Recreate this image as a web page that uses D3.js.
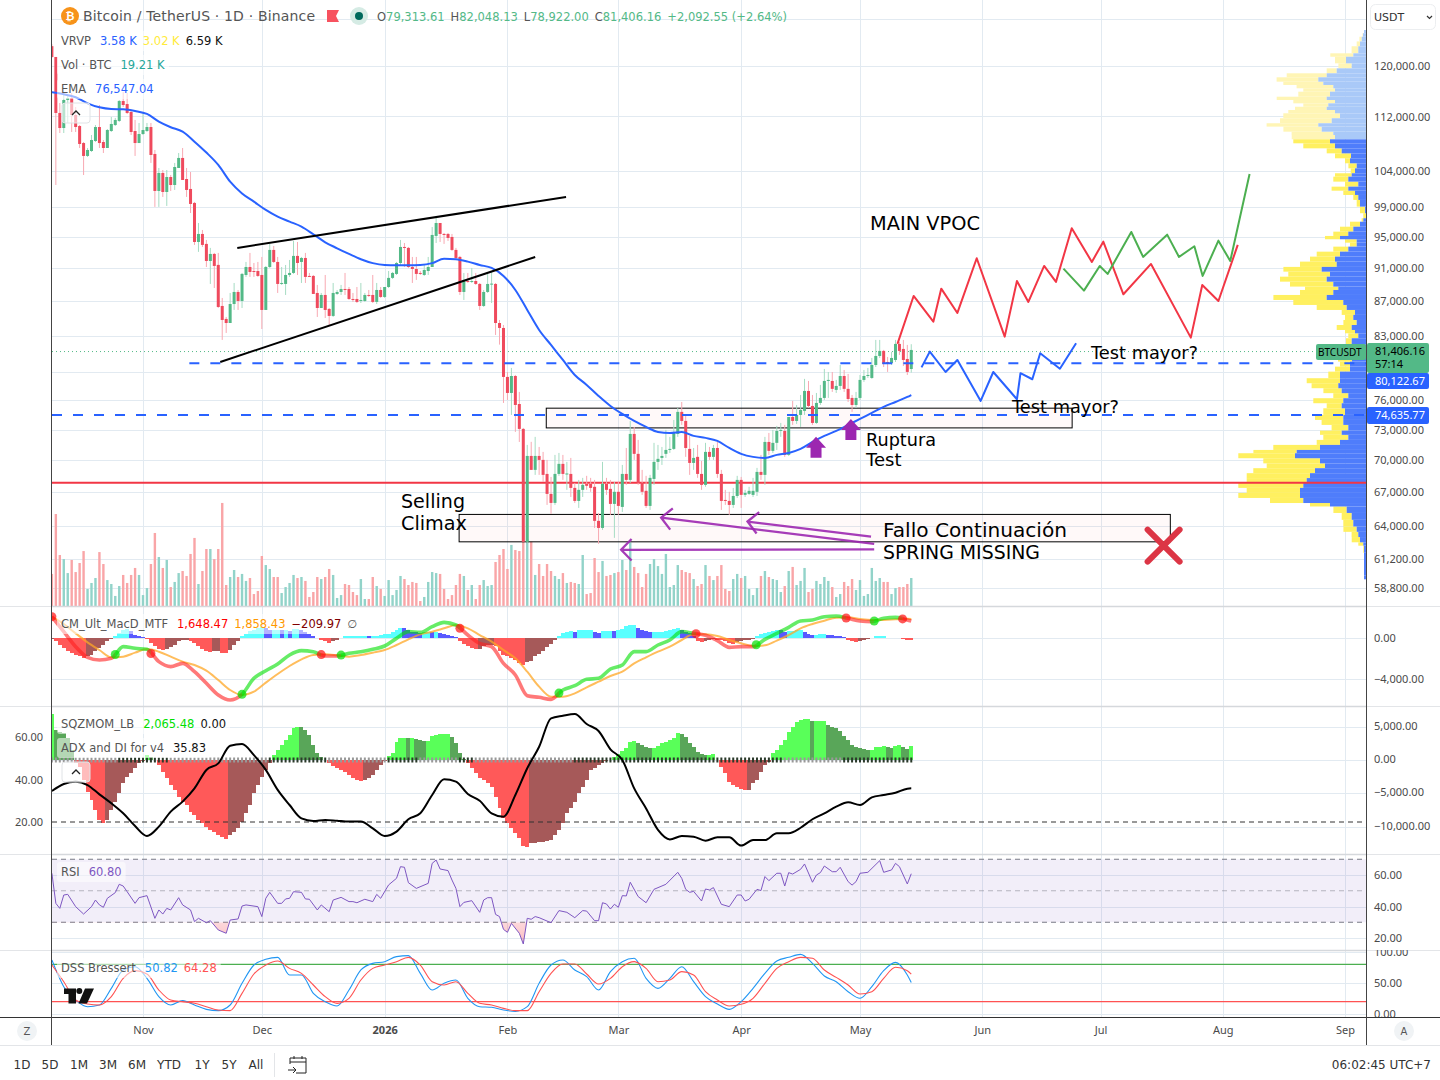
<!DOCTYPE html>
<html>
<head>
<meta charset="utf-8">
<title>BTCUSDT</title>
<script src="https://cdn.jsdelivr.net/npm/d3@7"></script>
<style>
html, body { margin: 0; padding: 0; background: #fff; }
svg { display: block; font-family: "DejaVu Sans", sans-serif; }
.axis path, .axis line { display: none; }
.axis text { font-family: "Noto Sans", sans-serif; font-size: 11px; fill: #4a4a4a; }
</style>
</head>
<body>
<svg id="chart" width="1440" height="1080"></svg>
<script>
// candles, first one is 9 Oct 2025, one per day
var opens = [
 123300,121490,112540,110250,114550,114860,112230,110550,108010,106120,
 106840,108310,110400,108160,107280,109800,110700,111320,114390,113920,
 112690,109800,108010,109350,109800,110400,106410,101160,103680,101020,
 103110,101990,104390,105830,102830,101440,99520,94350,95390,94100,
 91930,92820,91440,86450,84930,84460,86680,88120,87040,90190,
 91180,90680,90680,90190,85980,91180,93330,91810,89090,89090,
 90190,90440,92570,91810,92310,90070,90070,88000,86210,87760,
 86100,85280,87880,88120,88480,88480,87280,87280,87040,87040,
 87760,87760,86930,88360,87520,88720,89830,90320,91680,93710,
 93590,91180,90930,90440,90190,90680,91180,95130,96830,95390,
 95390,95000,93330,92440,88120,89450,89330,89450,89090,86450,
 88120,89090,89090,84460,83890,78460,76760,78560,75610,73080,
 62630,70430,69100,70430,70050,68720,66870,66050,68720,69670,
 68720,68720,67420,66230,67240,67790,67790,67520,64450,63830,
 67790,67330,65960,67060,65690,68720,68160,72580,70630,67880,
 67150,65780,68250,69860,70240,70630,71010,71110,72580,74800,
 73880,71110,69760,70340,68720,67700,70820,70340,71200,68720,
 66320,66230,65870,66680,68160,66780,66870,66780,67060,68910,
 68630,71790,70920,71700,72880,72880,70530,74280,73880,74490,
 74900,76970,75410,73680,75720,76240,78030,78030,77080,77500,
 78560,77190,76240,75510,76240,78140,78560,78350,79750,80740,
 81300,80080,79970,80300,82080,81520,80410,79313.61];
var highs = [
 123650,121490,114080,115650,115340,115650,113460,110700,108160,107280,
 109200,110700,113770,108460,110100,111930,111780,114550,115810,115650,
 113000,111470,111010,112540,111010,111010,106990,104390,104100,104100,
 103390,105110,106550,107280,104390,103820,99660,96830,95910,94610,
 93590,92950,92950,87400,85160,88000,89210,88360,90440,91810,
 92950,91680,91810,92440,91310,94100,93840,92440,91180,91430,
 92060,94480,94350,92440,92950,90440,90190,88970,88000,90190,
 86210,89210,88360,88970,90440,88720,88000,88720,89210,88000,
 88360,90190,89210,88720,88720,90680,90560,91810,94610,94220,
 93710,92440,92440,90680,91430,92440,96300,97760,96830,95520,
 95520,95390,93590,92570,90440,90440,91060,90440,89210,88360,
 90320,90560,89210,84810,84230,78980,79430,78670,76870,73180,
 71500,71800,72290,71300,70820,70050,68440,70530,70720,70530,
 69860,70240,67880,68160,68350,68540,68350,68160,65150,69860,
 68350,68160,67970,67970,69570,71200,73880,73280,71990,69100,
 68540,68630,71700,71500,71300,72980,72290,73980,75200,75820,
 74490,72390,71200,71500,69950,71700,71300,71500,71790,69100,
 67240,67060,67420,68540,68440,67240,67520,68350,69290,70530,
 72290,72680,72980,73380,73680,73480,74280,75930,75510,76550,
 78250,78030,76550,76760,77610,79320,78990,78990,78140,79750,
 79210,78780,76550,76870,78670,79210,79430,80520,82530,82530,
 81410,80630,81190,82530,82300,82530,81970,82048.13];
var lows = [
 121320,101990,109500,109500,111010,109650,109650,107280,103390,105970,
 106700,108160,107280,106550,107280,109650,110550,111160,113460,112380,
 109200,106120,108010,109200,109650,105110,98980,98980,100340,99110,
 101160,101300,104390,102690,100340,98160,93970,93080,93710,91180,
 89090,88600,86210,82530,83320,84460,85980,85980,86210,89950,
 89950,89950,89950,83770,85980,91060,91680,88000,88970,87760,
 89950,90320,90190,89210,89210,89950,87880,85160,86210,85040,
 84230,85160,87760,87760,87760,87160,86930,86800,86800,86930,
 87520,86800,86680,87400,87400,88600,89700,90190,91430,91180,
 91060,89210,89580,90190,90070,90190,91180,94220,94350,94100,
 94480,93200,92180,87760,87160,89210,89210,88970,85980,86330,
 88000,86800,83090,82000,75720,76030,74490,72780,71790,62630,
 62540,69100,68630,68630,67970,65870,65070,65870,68540,68160,
 67240,66590,66050,65600,66590,67240,67060,63830,62460,63660,
 66780,64980,62970,64980,65240,67700,67880,70050,67700,66780,
 65600,65420,67700,69100,69570,70240,70720,71010,72290,73480,
 70340,68630,69100,68350,67240,67520,70050,70050,68350,65420,
 65870,64980,65600,66500,65600,66590,66780,66590,66680,68160,
 67700,70530,70720,71010,72290,70340,70430,73480,73580,73280,
 74490,75200,73480,73580,75510,76030,76240,76870,76760,77080,
 76870,75820,74800,75200,76030,77930,78350,78250,79530,80520,
 79530,79000,79750,80080,80850,79640,78670,78922];
var closes = [
 121490,112540,110250,114550,114860,112230,110400,107870,106120,106990,
 108460,110400,108010,107280,109950,110860,111470,114390,113770,112540,
 109650,108010,109350,109950,110400,106260,101160,103680,101020,103110,
 101990,104530,105830,102690,101300,99380,94350,95390,93970,91930,
 92820,91310,86330,84810,84460,86680,88120,87040,90320,91180,
 90560,90560,90070,85980,91180,93330,91810,89090,89210,90190,
 90440,92570,91680,92310,89950,89950,87880,86210,87760,85980,
 85280,88000,88120,88480,88360,87280,87220,86930,87160,87760,
 87640,86930,88360,87520,88720,89830,90440,91680,93710,93590,
 91180,90930,90320,90320,90810,91180,95260,96830,95390,95260,
 94870,93330,92310,88120,89580,89330,89450,89090,86450,88120,
 89090,89130,84460,83890,78460,76760,78560,75510,73080,62630,
 70430,69100,70430,70050,68630,66870,66050,68720,69670,68720,
 68760,67420,66230,67240,67700,67610,67420,64450,63830,67790,
 67240,65960,67060,65780,68720,68160,72580,70630,67880,67060,
 65780,68350,69860,70150,70430,71010,71110,72680,74800,73880,
 71200,69760,70240,68720,67700,70820,70340,71200,68720,66230,
 66230,65870,66680,68160,66780,66960,67150,67150,68910,68630,
 71790,70920,71700,72880,72980,70530,74280,73880,74490,75000,
 76970,75410,73680,75720,76240,78030,78140,77190,77500,78560,
 77190,76130,75510,76240,78140,78560,78670,79750,80740,81300,
 79860,79860,80520,82080,81300,80300,79000,81406.16];
// volume in thousands of BTC
var volumes = [
 22.0,63.1,35.0,32.2,22.6,31.6,23.3,29.5,37.7,11.7,
 15.8,19.2,37.0,28.8,17.8,15.1,6.9,13.7,21.3,15.8,
 21.3,26.1,21.3,7.5,12.3,28.8,50.1,33.6,26.1,31.6,
 13.0,16.5,22.6,24.0,20.6,35.7,46.7,15.1,24.0,39.1,
 39.1,32.2,39.1,70.7,14.4,19.9,24.7,19.9,22.0,17.2,
 19.2,8.2,10.3,34.3,28.1,25.4,19.9,19.9,8.9,13.0,
 15.8,21.3,19.2,19.9,17.2,6.2,9.6,19.9,18.5,19.9,
 25.4,21.3,5.5,7.5,15.1,14.4,9.6,7.5,18.5,4.8,
 4.8,19.9,13.7,11.7,6.9,17.8,7.5,11.0,20.6,18.5,
 14.4,16.5,15.8,3.4,6.2,16.5,23.3,22.6,22.0,11.7,
 4.8,7.5,14.4,22.0,20.6,11.0,14.4,4.8,14.4,17.8,
 13.7,14.4,30.2,35.0,39.1,25.4,41.9,38.4,37.7,52.6,
 45.7,44.1,21.3,28.8,20.6,28.8,24.0,20.6,18.5,22.6,
 15.8,16.5,15.8,15.1,35.0,8.2,8.9,32.9,23.3,30.9,
 20.6,21.3,22.6,23.3,31.6,24.7,43.5,26.8,22.6,13.0,
 22.0,28.8,32.2,27.4,22.0,35.7,13.0,14.4,28.1,24.7,
 23.3,22.6,18.5,13.7,15.1,28.1,20.6,17.8,20.6,28.1,
 11.7,10.3,18.5,22.0,19.2,20.6,11.7,7.5,12.3,20.6,
 24.0,19.9,18.5,17.8,9.6,13.7,24.0,26.8,14.4,17.2,
 26.1,9.6,11.7,17.2,15.1,19.9,17.2,13.0,6.2,8.2,
 16.5,13.7,18.5,11.0,17.8,6.9,8.2,26.1,17.2,19.2,
 16.5,16.5,8.2,12.3,13.0,13.0,15.1,19.21];

// smooth series were read every third candle, plus the last one
var emaValues = [
 115760,115450,114980,114030,113410,113150,113110,112850,112390,111220,
 110370,109700,108210,106610,104820,102450,100820,99700,98570,97670,
 97010,96350,95350,94310,93540,92820,92150,91660,91430,91400,
 91400,91430,91660,92220,92150,91850,91430,91060,90070,88360,
 85980,83660,81970,80300,78670,77610,76450,75410,74590,73880,
 73280,72780,72680,72780,72390,72190,71890,71200,70630,70340,
 70240,70530,70720,71110,71790,72390,72880,73480,74080,74700,
 75310,75820,76340,76547.04];
var macdFast = [
 2081,618,-846,-1886,-2147,-1984,-846,-1008,-1106,-2309,
 -2797,-2472,-3285,-4423,-5561,-6049,-5496,-3935,-3187,-2537,
 -1659,-1236,-1334,-1756,-1756,-1496,-1334,-1106,-781,-33,
 618,553,1105,1528,1268,292,-521,-846,-2472,-3610,
 -5626,-5789,-5984,-5073,-4651,-4033,-3935,-3025,-2634,-1334,
 -1334,-683,-195,618,455,260,-260,-911,-846,-846,
 -130,455,1040,1658,1756,2081,2146,1918,1658,1593,
 1918,2016,1756,1648.47];
var macdSignal = [
 2081,1366,455,-423,-1171,-1886,-1821,-1431,-1073,-1334,
 -1821,-2309,-2634,-3187,-4098,-5073,-5561,-5236,-4358,-3512,
 -2732,-2082,-1659,-1594,-1691,-1821,-1659,-1431,-1171,-683,
 -130,357,618,943,1268,943,292,-358,-1171,-1984,
 -3285,-4748,-5724,-5724,-5399,-4813,-4260,-3708,-3285,-2472,
 -1886,-1334,-846,-195,357,357,195,-195,-521,-781,
 -716,-260,292,943,1366,1691,1983,2016,1853,1756,
 1756,1821,1886,1858.43];
var macdCrossDays = [0,16,25,48,68,73,103,128,162.6,177.8,200.5,207.6,214.8];
var macdHist = [
 -98,-325,-650,-975,-1300,-1463,-1625,-1788,-1950,-1788,
 -1625,-1300,-975,-650,-325,-98,163,488,748,878,
 650,325,228,98,-98,-488,-813,-1073,-1138,-1073,
 -910,-650,-325,-228,-163,-325,-488,-813,-1073,-1300,
 -1398,-1300,-1235,-1430,-1495,-1138,-650,-260,163,423,
 650,813,975,1073,975,813,813,813,748,748,
 715,878,878,748,553,423,228,33,-163,-325,
 -488,-325,-163,33,163,163,163,163,163,228,
 195,228,228,293,358,423,553,748,975,943,
 748,618,553,488,553,618,585,585,488,358,
 293,228,65,-325,-553,-813,-975,-1073,-1073,-813,
 -715,-650,-813,-1300,-1625,-1723,-1950,-2113,-2438,-2600,
 -2373,-2210,-1788,-1528,-1235,-910,-585,-163,163,488,
 618,650,618,748,748,813,813,585,488,650,
 715,715,650,748,878,1138,1300,1300,975,813,
 650,553,585,585,618,650,748,878,1008,813,
 585,488,163,-325,-423,-325,-228,-98,-163,-228,
 -325,-488,-618,-423,-325,-228,-163,-65,228,358,
 488,585,683,813,748,585,683,683,748,748,
 553,423,325,325,390,423,293,260,195,163,
 98,-228,-325,-423,-325,-228,-130,-33,163,195,
 195,0,0,0,0,-65,-163,-209.97];

var sqzValues = [
 6850,4500,4250,4000,3250,1500,-400,-1000,-3000,-4750,
 -6000,-7500,-9000,-9500,-9000,-7500,-6250,-5000,-3500,-2500,
 -2000,-1250,-500,-150,750,500,0,-750,-1750,-2750,
 -3750,-4500,-5500,-6250,-6750,-7750,-8250,-9000,-9500,-10000,
 -10500,-10750,-11250,-11600,-11800,-11250,-10750,-10250,-9250,-8000,
 -6750,-5000,-3750,-2500,-1500,-500,750,1500,2250,3000,
 3750,4750,5000,4950,4500,3750,2250,1000,400,0,
 -500,-850,-1250,-1500,-1750,-2250,-2750,-3000,-3150,-3000,
 -2750,-2250,-1500,-750,-150,600,1100,2750,3250,3350,
 3250,3350,3100,3000,2900,2900,3600,3800,3900,3900,
 3900,3500,2500,1100,100,-500,-1250,-2000,-2750,-3000,
 -3500,-4000,-5500,-7250,-8750,-9500,-10250,-11000,-11750,-12900,
 -13000,-12500,-12500,-12250,-12250,-12150,-12000,-11250,-10500,-9500,
 -8000,-7250,-6250,-5000,-4000,-3000,-1500,-1250,-750,-400,
 -150,0,500,850,1350,1750,2750,2900,2600,2250,
 1900,1800,1850,2150,2500,2750,3000,3250,4000,3900,
 3400,2500,1900,1250,850,700,800,900,0,-1000,
 -2000,-3250,-3750,-4000,-4400,-4500,-4500,-3500,-3000,-1750,
 -750,-250,1000,1500,2250,3000,4250,5000,5750,6000,
 6100,6100,5900,5900,5900,5900,5250,5000,4750,4400,
 3600,3000,2250,2000,1750,1600,1500,1500,1900,2000,
 2100,1900,1750,2100,2250,1900,1700,2065.48];
var sqzOnRuns = [[17,29],[55,69],[85,92],[103,106],[132,184],[200,217]];
var adxValues = [
 34.6,37.9,39.0,37.4,33.0,28.8,24.1,18.1,13.4,17.8,
 24.9,29.6,35.8,44.5,47.6,55.9,56.7,51.5,44.5,35.1,
 28.0,21.7,20.5,21.0,20.6,20.2,20.2,17.0,13.4,15.5,
 21.3,24.1,32.7,40.1,39.0,33.2,30.0,24.1,22.5,32.7,
 45.3,55.4,68.8,70.0,70.8,66.1,62.8,54.2,49.2,35.8,
 26.4,16.3,11.8,13.4,13.1,11.2,12.8,12.8,8.9,11.5,
 11.5,14.7,14.7,17.3,21.3,24.1,27.2,29.3,28.0,31.6,
 32.7,33.8,35.7,35.83];

// rsi turning points
var rsiDays = [
 0,1,2,3,4,6,8,10,11,12,13,14,16,17,18,19,21,22,24,26,27,28,29,30,32,33,35,36,37,39,40,42,44,45,47,48,49,52,53,54,55,57,58,59,60,61,63,64,65,67,68,70,71,73,75,76,77,79,81,82,83,85,87,88,89,90,92,95,96,97,98,100,101,102,103,104,106,
 108,109,110,111,112,113,114,115,116,118,119,120,121,122,123,126,128,130,132,134,135,137,138,139,140,141,142,143,144,145,146,148,150,152,155,158,159,160,161,162,164,165,166,167,169,171,173,174,175,176,178,179,180,181,183,184,185,186,187,189,190,192,193,194,195,197,198,199,201,202,203,204,206,209,210,212,213,214,216,217];
var rsiValues = [
 61.1,42.0,38.8,47.3,47.7,39.9,35.2,39.9,44.1,41.0,39.5,45.2,48.8,54.1,53.0,49.4,42.0,45.6,46.9,32.5,37.8,35.2,38.8,37.8,45.6,41.0,37.8,30.4,32.5,29.7,31.0,25.1,23.0,31.4,32.1,40.3,41.0,39.9,33.6,45.2,49.0,42.0,42.0,44.8,45.2,49.4,49.0,44.8,44.6,37.8,41.0,36.7,44.1,45.8,43.1,43.1,42.4,44.6,43.1,47.7,45.2,53.7,57.9,65.3,64.9,55.1,51.5,54.7,67.4,69.5,63.8,62.8,56.8,51.5,39.9,42.6,43.7,
 36.3,44.1,45.6,45.6,35.0,33.6,25.5,23.6,29.3,23.0,16.2,32.5,31.9,33.6,32.9,29.7,37.4,36.3,32.9,37.4,37.1,31.0,31.0,42.4,41.6,38.4,41.4,39.5,46.9,46.7,55.4,46.3,42.4,50.9,54.1,61.7,57.9,50.9,49.0,49.6,43.5,51.1,50.5,52.0,41.4,39.9,47.3,47.3,43.5,44.6,50.9,50.1,59.0,56.4,61.1,61.1,53.0,61.5,60.6,63.6,67.0,55.4,60.0,61.5,65.7,62.1,62.1,64.9,55.8,53.6,55.8,61.1,61.7,69.1,61.7,63.2,67.4,65.3,54.3,60.8];

var dssBlue = [
 87.1,44.1,22.6,11.8,14.5,41.4,71.0,76.3,57.5,28.0,
 14.5,21.5,14.5,7.5,5.4,14.5,49.5,79.0,88.2,91.4,
 62.9,62.9,33.3,19.9,12.9,38.7,71.0,81.7,84.4,92.5,
 94.1,65.6,38.7,49.5,54.8,25.3,11.8,10.8,6.4,4.3,
 11.8,49.5,79.0,87.1,71.0,60.2,38.7,68.3,84.4,89.8,
 57.5,41.4,57.5,76.3,52.1,28.0,16.1,7.5,19.9,41.4,
 65.6,85.5,91.4,96.2,81.7,61.3,52.1,36.0,25.3,44.1,
 69.9,83.3,62.9,50.82];
var dssRed = [
 79.0,52.1,22.6,16.1,14.5,28.0,57.5,69.9,64.5,38.7,
 22.6,19.9,17.2,11.8,6.4,5.4,33.3,64.5,79.0,85.5,
 73.6,65.6,46.8,28.0,17.2,25.3,54.8,73.6,79.0,84.4,
 91.4,79.0,52.1,46.8,52.1,33.3,17.2,14.5,9.1,5.4,
 5.4,36.0,65.6,80.6,80.6,64.5,48.4,57.5,76.3,84.4,
 73.6,52.1,54.8,68.3,62.9,36.0,22.6,12.9,15.6,25.3,
 49.5,73.6,84.4,91.4,89.8,71.0,59.1,46.8,32.3,36.0,
 57.5,75.3,69.9,64.28];

// visible range volume profile, rows from the top
var vpPrices = [
 126050,125500,124900,124100,123280,122100,121530,120440,119620,118810,118160,117460,116930,116400,115860,115070,114550,114030,113500,113000,112490,111730,110970,110460,109700,109200,
 108560,107970,107230,106500,105780,105060,104340,103640,103160,102460,101760,101200,100610,99930,99020,98130,97460,97000,96340,95690,95130,94700,94260,93750,93110,92480,91850,91190,90600,89980,89370,88770,88360,87760,
 87160,86570,85980,85400,84810,84230,83660,83280,82720,82000,81190,80520,80120,79570,79030,78320,77790,77260,76740,76210,75690,75170,74490,73980,73480,72910,72490,71990,71500,71010,70690,70210,69720,69260,68790,68330,67880,67420,66960,66500,66040,65730,65150,64540,63960,63490,63040,62590,62300,61700,59800];
var vpUp = [
 2,3,4.3,6,7.7,12.7,20,14.3,29.3,39.3,47.7,42.7,32.7,31,36,39.3,31,37.7,39.3,31,26,34.3,47.7,44.3,32.7,31,
 36,31,24.3,15,16,9.3,11,14.3,17.7,7.7,17.7,11,7.7,6,1,0,2.7,6,12.7,17.7,26,9.3,9.3,17.7,26,31,29.3,44.3,36,39.3,32.7,27.7,32.7,39.3,
 22.7,19.3,11,12.7,9.3,14.3,11,7.7,14.3,12,13,14,16,16,26,26,27.7,24.3,17.7,22.7,24.3,21,22.7,22.7,17.7,24.3,17.7,26,46,69.3,71,46,41,51,56,59.3,62.7,66,66,62.7,36,19.3,14.3,12.7,9.3,7.7,6,2.7,2,2,2];
var vpDown = [
 0,0.5,2.3,3.3,6.7,23,11,13.3,10,40,41.7,40,36.7,31.7,31.7,50,41.7,25,31.7,46.7,56.7,51.7,51.7,38.3,41.7,43.3,
 36.7,31.7,15,16,5,8.3,4.3,16.7,15,13.3,16.7,11.7,5,3.3,5,2.7,1.7,10,13.3,15,15,11.7,6.7,15,23.3,25,36.7,38.3,41.7,46.7,43.3,33.3,33.3,53.3,
 50,30,13.3,8.3,13.3,15,10,10,5.7,9,12,14,10,15,11.7,33.3,26.7,18.3,15,30,15,21.7,28.3,21.7,16.7,21.7,25,23.3,46.7,43.3,56.7,56.7,58.3,61.7,63.3,60,65,53.3,61.7,33.3,20,13.3,10,10,13.3,6.7,8.3,5,0.7,0,0];
var vpValueAreaTop = 108800;

// axis ticks
var priceTicks = [120000,112000,104000,99000,95000,91000,87000,83000,76000,73000,70000,67000,64000,61200,58800];
var priceGrid = [128000,120000,112000,104000,99000,95000,91000,87000,83000,79000,76000,73000,70000,67000,64000,61200,58800];
var monthDates = [Date.UTC(2025,10,1),Date.UTC(2025,11,1),Date.UTC(2026,0,1),Date.UTC(2026,1,1),Date.UTC(2026,2,1),Date.UTC(2026,3,1),Date.UTC(2026,4,1),Date.UTC(2026,5,1),Date.UTC(2026,6,1),Date.UTC(2026,7,1),Date.UTC(2026,8,1)];
var monthLabels = ["Nov","Dec","2026","Feb","Mar","Apr","May","Jun","Jul","Aug","Sep"];
var macdTicks = [0,-4000];
var sqzTicks = [5000,0,-5000,-10000];
var adxTicks = [60,40,20];
var rsiTicks = [60,40,20];
var dssTicks = [100,50,0];
var rangeButtons = ["1D","5D","1M","3M","6M","YTD","1Y","5Y","All"];

// drawn ideas on the chart, [day, price]
var wedgeTop = [[46.8,93590],[129.8,100340]];
var wedgeBottom = [[42.5,80080],[122,92440]];
var redPath = [[213.5,82080],[217.6,87640],[222.6,84610],[224.6,88520],[228.7,85630],[233.6,92270],[240.7,82900],[243.8,89460],[246.7,86930],[250.7,91310],[253.7,89340],[257.7,96130],[262.8,91810],[265.7,94390],[270.8,87840],[277.8,91560],[287.9,82790],[290.8,88970],[294.9,87040],[299.8,93970]];
var greenPath = [[255.6,90970],[260.8,88280],[264.8,91310],[266.8,90320],[272.8,95650],[275.8,92440],[281.9,95300],[284.9,92440],[288.8,93800],[290.9,90070],[294.9,94520],[297.9,91930],[302.8,103530]];
var bluePath = [[219.6,79490],[221.7,81220],[225.7,78990],[228.7,80300],[234.6,75930],[237.8,78990],[243.8,76100],[244.7,78860],[247.7,78210],[249.7,81040],[254.7,79350],[258.8,82150]];
var boxes = [[124.8,75180,257.8,73180],[102.8,65020,282.7,62630]];
var purpleArrows = [[206.8,63080,175.6,64390],[207.6,62460,153.8,64730],[207.6,61990,143.7,61950]];
var upArrows = [[192.9,72310],[201.7,74080]];
var crossMark = [281,62300];

var firstDay = Date.UTC(2025,9,9);
var DAY = 86400000;
var L = 52, R = 1366;
var sampleDays = d3.range(0,217,3).concat([217]);
var levelNudge = 1.6;

var svg = d3.select("#chart");

var x = d3.scaleUtc().domain([Date.UTC(2025,10,1),Date.UTC(2026,4,1),Date.UTC(2026,8,1)]).range([143,860,1345]);
function dayX(i) { return x(firstDay + i*DAY); }

var yPrice = d3.scaleLog().domain([120000,58800]).range([66,588]);
var yVol = d3.scaleLinear().domain([0,19.21]).range([606,578]);
var yMacd = d3.scaleLinear().domain([0,-4000]).range([638,679]);
var ySqz = d3.scaleLinear().domain([0,5000]).range([760,726.7]);
var yAdx = d3.scaleLinear().domain([20,60]).range([822,737]);
var yRsi = d3.scaleLinear().domain([60,20]).range([875,938]);
var yDss = d3.scaleLinear().domain([0,100]).range([1014,952]);

var defs = svg.append("defs");
function paneClip(id, top, bottom) {
    defs.append("clipPath").attr("id",id).append("rect")
        .attr("x",L).attr("y",top).attr("width",R-L).attr("height",bottom-top);
    return svg.append("g").attr("clip-path","url(#"+id+")");
}

var gridColor = "#e2eaf1";
var grid = svg.append("g");
grid.selectAll("line.month").data(monthDates).enter().append("line")
    .attr("x1",function(d){return Math.round(x(d))+0.5;}).attr("x2",function(d){return Math.round(x(d))+0.5;})
    .attr("y1",0).attr("y2",1017).attr("stroke",gridColor);
function hGrid(vals, scale) {
    grid.selectAll(null).data(vals).enter().append("line")
        .attr("x1",L).attr("x2",R)
        .attr("y1",function(d){return Math.round(scale(d))+0.5;}).attr("y2",function(d){return Math.round(scale(d))+0.5;})
        .attr("stroke",gridColor);
}
hGrid(priceGrid,yPrice);
hGrid(macdTicks,yMacd);
hGrid(sqzTicks,ySqz);
hGrid(rsiTicks,yRsi);
hGrid(dssTicks,yDss);

// bars in the lower panes touch each other, so snap them to pixels
function barX(i) { return Math.round(dayX(i)-2); }
function barW(i) { return Math.round(dayX(i+1)-2)-Math.round(dayX(i)-2); }

// ---- main pane
var main = paneClip("clipMain",0,606);

var vpX = d3.scaleLinear().domain([0,100]).range([0,100]);
var vpRows = vpPrices.map(function(p,i){
    var next = i < vpPrices.length-1 ? vpPrices[i+1] : p*0.995;
    return {top:p, bottom:next, up:vpUp[i], down:vpDown[i], pale:p>vpValueAreaTop};
});
var vpG = main.append("g");
vpG.selectAll("rect.dn").data(vpRows).enter().append("rect")
    .attr("x",function(d){return R-vpX(d.up+d.down);})
    .attr("width",function(d){return vpX(d.down);})
    .attr("y",function(d){return yPrice(d.top);})
    .attr("height",function(d){return yPrice(d.bottom)-yPrice(d.top);})
    .attr("fill",function(d){return d.pale?"#fff5b5":"#fff060";});
vpG.selectAll("rect.up").data(vpRows).enter().append("rect")
    .attr("x",function(d){return R-vpX(d.up);})
    .attr("width",function(d){return vpX(d.up);})
    .attr("y",function(d){return yPrice(d.top);})
    .attr("height",function(d){return yPrice(d.bottom)-yPrice(d.top);})
    .attr("fill",function(d){return d.pale?"#a9c9f8":"#4f7dfb";});

// volume
var candleRows = d3.range(opens.length).map(function(i){
    return {i:i,o:opens[i],h:highs[i],l:lows[i],c:closes[i],v:volumes[i],up:closes[i]>=opens[i]};
});
main.selectAll("rect.vol").data(candleRows).enter().append("rect")
    .attr("x",function(d){return dayX(d.i)-1.2;}).attr("width",2.4)
    .attr("y",function(d){return yVol(d.v);})
    .attr("height",function(d){return yVol(0)-yVol(d.v);})
    .attr("fill",function(d){return d.up?"#92d3c9":"#f9a5a7";});

// lines behind the candles
main.append("line").attr("x1",L).attr("x2",R).attr("y1",yPrice(67900)).attr("y2",yPrice(67900))
    .attr("stroke","#f23645").attr("stroke-width",2);
main.append("line").attr("x1",L).attr("x2",1316).attr("y1",yPrice(81406.16)+levelNudge).attr("y2",yPrice(81406.16)+levelNudge)
    .attr("stroke","#53b987").attr("stroke-dasharray","1 3");

// boxes
boxes.forEach(function(b){
    main.append("rect").attr("x",dayX(b[0])).attr("y",yPrice(b[1]))
        .attr("width",dayX(b[2])-dayX(b[0])).attr("height",yPrice(b[3])-yPrice(b[1]))
        .attr("fill","#f23645").attr("fill-opacity",0.03)
        .attr("stroke","#000").attr("stroke-width",1);
});

// wicks and bodies
main.selectAll("line.wick").data(candleRows).enter().append("line")
    .attr("x1",function(d){return dayX(d.i);}).attr("x2",function(d){return dayX(d.i);})
    .attr("y1",function(d){return yPrice(d.h);}).attr("y2",function(d){return yPrice(d.l);})
    .attr("stroke",function(d){return d.up?"#a6dcc3":"#f8a9b2";});
main.selectAll("rect.body").data(candleRows).enter().append("rect")
    .attr("x",function(d){return dayX(d.i)-1.5;}).attr("width",3)
    .attr("y",function(d){return Math.min(yPrice(d.o),yPrice(d.c));})
    .attr("height",function(d){return Math.max(1,Math.abs(yPrice(d.o)-yPrice(d.c)));})
    .attr("fill",function(d){return d.up?"#53b987":"#ef4a5d";});

// ema
var emaLine = d3.line().x(function(d,i){return dayX(sampleDays[i]);}).y(function(d){return yPrice(d);}).curve(d3.curveMonotoneX);
main.append("path").attr("d",emaLine(emaValues)).attr("fill","none").attr("stroke","#2962ff").attr("stroke-width",2);

// levels
main.append("line").attr("x1",dayX(34.7)).attr("x2",R).attr("y1",yPrice(80122.67)+levelNudge).attr("y2",yPrice(80122.67)+levelNudge)
    .attr("stroke","#2962ff").attr("stroke-width",2).attr("stroke-dasharray","10 11");
main.append("line").attr("x1",L).attr("x2",R).attr("y1",yPrice(74635.77)+levelNudge).attr("y2",yPrice(74635.77)+levelNudge)
    .attr("stroke","#2962ff").attr("stroke-width",2).attr("stroke-dasharray","10 11");

// drawings
var toolLine = d3.line().x(function(d){return dayX(d[0]);}).y(function(d){return yPrice(d[1]);});
[[wedgeTop,"#000"],[wedgeBottom,"#000"],[redPath,"#f23645"],[greenPath,"#4caf50"],[bluePath,"#2962ff"]].forEach(function(p){
    main.append("path").attr("d",toolLine(p[0])).attr("fill","none").attr("stroke",p[1])
        .attr("stroke-width",2).attr("stroke-linejoin","round");
});
purpleArrows.forEach(function(a){
    var x1=dayX(a[0]),y1=yPrice(a[1]),x2=dayX(a[2]),y2=yPrice(a[3]);
    var ang=Math.atan2(y1-y2,x1-x2),len=15;
    var p="M"+x1+","+y1+"L"+x2+","+y2
        +"M"+(x2+len*Math.cos(ang+0.8))+","+(y2+len*Math.sin(ang+0.8))+"L"+x2+","+y2
        +"L"+(x2+len*Math.cos(ang-0.8))+","+(y2+len*Math.sin(ang-0.8));
    main.append("path").attr("d",p).attr("fill","none").attr("stroke","#9c27b0").attr("stroke-width",2.3).attr("stroke-opacity",0.9);
});
upArrows.forEach(function(a){
    main.append("path").attr("transform","translate("+dayX(a[0])+","+yPrice(a[1])+")")
        .attr("d","M0,0L10,11L5.5,11L5.5,21L-5.5,21L-5.5,11L-10,11Z").attr("fill","#9c27b0");
});
var xc=dayX(crossMark[0]),yc=yPrice(crossMark[1]);
main.append("path").attr("d","M"+(xc-16)+","+(yc-16)+"L"+(xc+16)+","+(yc+16)+"M"+(xc-16)+","+(yc+16)+"L"+(xc+16)+","+(yc-16))
    .attr("stroke","#dc3545").attr("stroke-width",6).attr("stroke-linecap","round");

var notes = main.append("g").attr("fill","#000");
function note(txt,px,py,size,w) {
    var t = notes.append("text").attr("x",px).attr("y",py).attr("font-size",size).text(txt);
    if (w) t.attr("textLength",w).attr("lengthAdjust","spacingAndGlyphs");
}
note("MAIN VPOC",870,230,20,110);
note("Selling",401,508,20,64);
note("Climax",401,530,20,66);
note("Ruptura",866,446,18,70);
note("Test",866,466,18);
note("Test mayor?",1091,359,18,107);
note("Test mayor?",1012,413,18,107);
note("Fallo Continuación",883,537,20,184);
note("SPRING MISSING",883,559,20,157);

// ---- macd pane
var macdG = paneClip("clipMacd",607,705);
var histRows = macdHist.map(function(v,i){
    var prev = i>0 ? macdHist[i-1] : v;
    var col = v>=0 ? (v>=prev?"#59ffff":"#5959ff") : (v<prev?"#ff5959":"#a65959");
    return {i:i,v:v,col:col};
});
macdG.selectAll("rect").data(histRows).enter().append("rect")
    .attr("shape-rendering","crispEdges")
    .attr("x",function(d){return barX(d.i);}).attr("width",function(d){return barW(d.i);})
    .attr("y",function(d){return Math.min(yMacd(0),yMacd(d.v));})
    .attr("height",function(d){return Math.abs(yMacd(d.v)-yMacd(0));})
    .attr("fill",function(d){return d.col;});
var macdLine = d3.line().x(function(d,i){return dayX(sampleDays[i]);}).y(function(d){return yMacd(d);}).curve(d3.curveMonotoneX);
macdG.append("path").attr("d",macdLine(macdSignal)).attr("fill","none").attr("stroke","#ffa726").attr("stroke-width",2).attr("stroke-opacity",0.75);
// colour of the fast line changes at every cross
var crossEnds = macdCrossDays.slice(1).concat([218]);
macdCrossDays.forEach(function(d,k){
    var id="macdRun"+k;
    defs.append("clipPath").attr("id",id).append("rect")
        .attr("x",dayX(d)).attr("width",dayX(crossEnds[k])-dayX(d)).attr("y",600).attr("height",110);
    macdG.append("path").attr("d",macdLine(macdFast)).attr("fill","none").attr("clip-path","url(#"+id+")")
        .attr("stroke",k%2==1?"#00e000":"#ff2020").attr("stroke-opacity",0.6).attr("stroke-width",3.6);
});
var fastAt = d3.scaleLinear().domain(sampleDays).range(macdFast);
macdG.selectAll("circle").data(macdCrossDays).enter().append("circle")
    .attr("cx",function(d){return dayX(d);}).attr("cy",function(d){return yMacd(fastAt(d));}).attr("r",4.5)
    .attr("fill",function(d,k){return k%2==1?"#00e000":"#ff1010";}).attr("fill-opacity",0.7);

// ---- squeeze and adx pane
var sqzG = paneClip("clipSqz",707,854);
var sqzRows = sqzValues.map(function(v,i){
    var prev = i>0 ? sqzValues[i-1] : v;
    var col = v>=0 ? (v>=prev?"#59ff59":"#59a659") : (v<prev?"#ff5959":"#a65959");
    return {i:i,v:v,col:col};
});
sqzG.selectAll("rect.bar").data(sqzRows).enter().append("rect")
    .attr("shape-rendering","crispEdges")
    .attr("x",function(d){return barX(d.i);}).attr("width",function(d){return barW(d.i);})
    .attr("y",function(d){return Math.min(ySqz(0),ySqz(d.v));})
    .attr("height",function(d){return Math.abs(ySqz(d.v)-ySqz(0));})
    .attr("fill",function(d){return d.col;});
sqzG.selectAll("rect.dot").data(candleRows).enter().append("rect")
    .attr("x",function(d){return dayX(d.i)-1;}).attr("width",2)
    .attr("y",ySqz(0)-2.5).attr("height",5)
    .attr("fill",function(d){
        var on = sqzOnRuns.some(function(r){return d.i>=r[0] && d.i<=r[1];});
        return on?"#2b3a2b":"#999";
    });
sqzG.append("line").attr("x1",L).attr("x2",R).attr("y1",yAdx(20)).attr("y2",yAdx(20))
    .attr("stroke","#333").attr("stroke-dasharray","5 4");
var adxLine = d3.line().x(function(d,i){return dayX(sampleDays[i]);}).y(function(d){return yAdx(d);}).curve(d3.curveMonotoneX);
sqzG.append("path").attr("d",adxLine(adxValues)).attr("fill","none").attr("stroke","#000").attr("stroke-width",2);

// ---- rsi pane
var rsiG = paneClip("clipRsi",855,950);
rsiG.append("rect").attr("x",L).attr("width",R-L).attr("y",yRsi(70)).attr("height",yRsi(30)-yRsi(70))
    .attr("fill","#7e57c2").attr("fill-opacity",0.1);
[70,50,30].forEach(function(v){
    rsiG.append("line").attr("x1",L).attr("x2",R).attr("y1",yRsi(v)).attr("y2",yRsi(v))
        .attr("stroke","#787b86").attr("stroke-opacity",v==50?0.5:1).attr("stroke-dasharray","5 4");
});
var rsiPts = rsiDays.map(function(d,i){return [d,rsiValues[i]];});
defs.append("clipPath").attr("id","rsiLow").append("rect").attr("x",L).attr("width",R-L).attr("y",yRsi(30)).attr("height",40);
var rsiGrad = defs.append("linearGradient").attr("id","rsiPink").attr("x1",0).attr("x2",0).attr("y1",0).attr("y2",1);
rsiGrad.append("stop").attr("offset","0%").attr("stop-color","#fff").attr("stop-opacity",0);
rsiGrad.append("stop").attr("offset","100%").attr("stop-color","#f23645").attr("stop-opacity",0.35);
rsiG.append("path").attr("clip-path","url(#rsiLow)").attr("fill","url(#rsiPink)")
    .attr("d",d3.area().x(function(d){return dayX(d[0]);}).y0(yRsi(30)).y1(function(d){return yRsi(d[1]);})(rsiPts));
rsiG.append("path").attr("fill","none").attr("stroke","#7e57c2").attr("stroke-width",1)
    .attr("d",d3.line().x(function(d){return dayX(d[0]);}).y(function(d){return yRsi(d[1]);})(rsiPts));

// ---- dss pane
var dssG = paneClip("clipDss",951,1017);
dssG.append("line").attr("x1",L).attr("x2",R).attr("y1",yDss(80)).attr("y2",yDss(80)).attr("stroke","#4caf50").attr("stroke-width",1.2);
dssG.append("line").attr("x1",L).attr("x2",R).attr("y1",yDss(20)).attr("y2",yDss(20)).attr("stroke","#ff5252").attr("stroke-width",1.2);
var dssLine = d3.line().x(function(d,i){return dayX(sampleDays[i]);}).y(function(d){return yDss(d);}).curve(d3.curveMonotoneX);
dssG.append("path").attr("d",dssLine(dssBlue)).attr("fill","none").attr("stroke","#2196f3").attr("stroke-width",1.1);
dssG.append("path").attr("d",dssLine(dssRed)).attr("fill","none").attr("stroke","#ff5252").attr("stroke-width",1.1);

// ---- frame
var frame = svg.append("g");
[606,706,854,950].forEach(function(yy){
    frame.append("line").attr("x1",L).attr("x2",R).attr("y1",yy+0.5).attr("y2",yy+0.5).attr("stroke","#d5d8dc").attr("stroke-width",1.5);
    frame.append("line").attr("x1",R).attr("x2",1440).attr("y1",yy+0.5).attr("y2",yy+0.5).attr("stroke","#e3e5e8");
    frame.append("line").attr("x1",0).attr("x2",L).attr("y1",yy+0.5).attr("y2",yy+0.5).attr("stroke","#e3e5e8");
});
frame.append("line").attr("x1",0).attr("x2",1440).attr("y1",1017.5).attr("y2",1017.5).attr("stroke","#333");
frame.append("line").attr("x1",0).attr("x2",1440).attr("y1",1045.5).attr("y2",1045.5).attr("stroke","#e3e5e8");
frame.append("line").attr("x1",51.5).attr("x2",51.5).attr("y1",0).attr("y2",1045).attr("stroke","#444");
frame.append("line").attr("x1",1366.5).attr("x2",1366.5).attr("y1",0).attr("y2",1045).attr("stroke","#444");

// ---- axes
var fmt = d3.format(",.2f");
function rightAxis(scale, ticks, shift) {
    return svg.append("g").attr("class","axis").attr("transform","translate("+R+","+(shift||0)+")")
        .call(d3.axisRight(scale).tickValues(ticks).tickSize(0).tickPadding(8)
        .tickFormat(function(d){return fmt(d).replace("-","\u2212");}));
}
rightAxis(yPrice,priceTicks);
rightAxis(yMacd,macdTicks);
rightAxis(ySqz,sqzTicks,-1);
rightAxis(yRsi,rsiTicks);
// top and bottom labels of the last pane are cut by its edges
defs.append("clipPath").attr("id","dssAxisClip").append("rect").attr("x",R).attr("y",950).attr("width",74).attr("height",67);
svg.append("g").attr("clip-path","url(#dssAxisClip)").append("g").attr("class","axis").attr("transform","translate("+R+",0)")
    .call(d3.axisRight(yDss).tickValues(dssTicks).tickSize(0).tickPadding(8).tickFormat(fmt));
svg.append("g").attr("class","axis").attr("transform","translate(51,0)")
    .call(d3.axisLeft(yAdx).tickValues(adxTicks).tickSize(0).tickPadding(8).tickFormat(fmt));
var timeAxis = svg.append("g").attr("class","axis").attr("transform","translate(0,1017)")
    .call(d3.axisBottom(x).tickValues(monthDates).tickSize(0).tickPadding(9)
    .tickFormat(function(d,i){return monthLabels[i];}));
timeAxis.selectAll("text").style("font-weight",function(d,i){return monthLabels[i]=="2026"?"bold":null;});

// ---- price tags
var tags = svg.append("g").attr("font-size",11).attr("font-family","Noto Sans");
tags.append("rect").attr("x",1316).attr("y",344).attr("width",50).attr("height",16).attr("rx",2).attr("fill","#53b987");
tags.append("text").attr("x",1318).attr("y",356).attr("font-size",10).attr("fill","#000").text("BTCUSDT");
tags.append("rect").attr("x",1367).attr("y",343).attr("width",62).attr("height",30).attr("rx",2).attr("fill","#53b987");
tags.append("text").attr("x",1375).attr("y",355).attr("fill","#000").text(fmt(81406.16));
tags.append("text").attr("x",1375).attr("y",368).attr("fill","#000").text("57:14");
tags.append("rect").attr("x",1367).attr("y",373).attr("width",62).attr("height",16).attr("rx",2).attr("fill","#2962ff");
tags.append("text").attr("x",1375).attr("y",385).attr("fill","#fff").text(fmt(80122.67));
tags.append("rect").attr("x",1367).attr("y",407).attr("width",62).attr("height",17).attr("rx",2).attr("fill","#2962ff");
tags.append("text").attr("x",1375).attr("y",419).attr("fill","#fff").text(fmt(74635.77));

// ---- legends
function legend(px, py, parts, size) {
    var g = svg.append("g");
    var bg = g.append("rect").attr("fill","#fff").attr("fill-opacity",0.55);
    var t = g.append("text").attr("x",px).attr("y",py).attr("font-size",size||11.5);
    parts.forEach(function(p,i){
        t.append("tspan").attr("dx",i==0?0:(p[2]||6)).attr("fill",p[1]).text(p[0]);
    });
    var b = t.node().getBBox();
    bg.attr("x",b.x-4).attr("y",b.y-3).attr("width",b.width+8).attr("height",b.height+6).attr("rx",3);
}
legend(61,45,[["VRVP","#555"],["3.58 K","#2962ff",9],["3.02 K","#ffeb3b"],["6.59 K","#111"]]);
legend(61,69,[["Vol \u00b7 BTC","#555"],["19.21 K","#26a69a",9]]);
legend(61,93,[["EMA","#555"],["76,547.04","#2962ff",9]]);
legend(61,628,[["CM_Ult_MacD_MTF","#555"],["1,648.47","#ff0000",9],["1,858.43","#ff9800"],["\u2212209.97","#800000"],["\u2205","#555"]]);
legend(61,728,[["SQZMOM_LB","#555"],["2,065.48","#00e000",9],["0.00","#111"]]);
legend(61,752,[["ADX and DI for v4","#555"],["35.83","#111",9]]);
legend(61,876,[["RSI","#555"],["60.80","#7e57c2",9]]);
legend(61,972,[["DSS Bressert","#555"],["50.82","#2196f3",9],["64.28","#ff5252"]]);

// ---- header
var head = svg.append("g");
head.append("circle").attr("cx",70).attr("cy",16).attr("r",9).attr("fill","#f7931a");
head.append("text").attr("x",70).attr("y",20).attr("text-anchor","middle").attr("font-size",11).attr("font-weight","bold").attr("fill","#fff").text("\u20bf");
head.append("text").attr("x",83).attr("y",21).attr("font-size",14).attr("fill","#555").attr("textLength",232).text("Bitcoin / TetherUS \u00b7 1D \u00b7 Binance");
head.append("path").attr("d","M327,10H339L336,16L339,22H327Z").attr("fill","#f7525f");
head.append("circle").attr("cx",359).attr("cy",16).attr("r",9).attr("fill","#d5ebe4");
head.append("circle").attr("cx",359).attr("cy",16).attr("r",4).attr("fill","#00695c");
var ohlc = head.append("text").attr("x",377).attr("y",21).attr("font-size",11.5);
[["O","79,313.61"],["H","82,048.13"],["L","78,922.00"],["C","81,406.16"]].forEach(function(p,i){
    ohlc.append("tspan").attr("dx",i==0?0:6).attr("fill","#555").text(p[0]);
    ohlc.append("tspan").attr("fill","#53b987").text(p[1]);
});
ohlc.append("tspan").attr("dx",6).attr("fill","#53b987").text("+2,092.55 (+2.64%)");

// ---- small controls
var ui = svg.append("g");
[[62,103],[62,762]].forEach(function(p){
    ui.append("rect").attr("x",p[0]).attr("y",p[1]).attr("width",28).attr("height",20).attr("rx",3)
        .attr("fill","#fff").attr("fill-opacity",0.6).attr("stroke","#e0e3e6");
    ui.append("path").attr("d","M"+(p[0]+10)+","+(p[1]+12)+"l4,-4l4,4").attr("fill","none").attr("stroke","#222").attr("stroke-width",1.3);
});
ui.append("rect").attr("x",1370.5).attr("y",4.5).attr("width",65).attr("height",25).attr("rx",5).attr("fill","#fff").attr("stroke","#eceef0");
ui.append("text").attr("x",1374).attr("y",21).attr("font-size",11).attr("fill","#333").text("USDT");
ui.append("path").attr("d","M1427,16l2.5,2.5l2.5,-2.5").attr("fill","none").attr("stroke","#333").attr("stroke-width",1.2);
ui.append("circle").attr("cx",27).attr("cy",1031).attr("r",10).attr("fill","#f0f3f5");
ui.append("text").attr("x",27).attr("y",1035).attr("text-anchor","middle").attr("font-size",10).attr("fill","#555").text("Z");
ui.append("circle").attr("cx",1404).attr("cy",1031).attr("r",10).attr("fill","#f0f3f5");
ui.append("text").attr("x",1404).attr("y",1035).attr("text-anchor","middle").attr("font-size",10).attr("fill","#555").text("A");
// watermark logo
ui.append("path").attr("d","M64,988.5H76V1003.5H68.5V994H64ZM85,988.5H94L87,1003.5H78.5Z").attr("fill","#111");
ui.append("circle").attr("cx",79.3).attr("cy",991).attr("r",3).attr("fill","#111");

var btnPos = [22,50,79,108,137,169,202,229,256];
rangeButtons.forEach(function(b,i){
    ui.append("text").attr("x",btnPos[i]).attr("y",1069).attr("text-anchor","middle").attr("font-size",12).attr("fill","#333").text(b);
});
ui.append("line").attr("x1",274.5).attr("x2",274.5).attr("y1",1053).attr("y2",1077).attr("stroke","#e3e5e8");
ui.append("path").attr("d","M290,1058H306V1073H296M290,1064V1058M290,1062H306M294,1056V1059M302,1056V1059M288,1070H296M293,1067l3,3l-3,3").attr("fill","none").attr("stroke","#222");
ui.append("text").attr("x",1431).attr("y",1069).attr("text-anchor","end").attr("font-size",12).attr("fill","#333").text("06:02:45 UTC+7");
</script>
</body>
</html>
